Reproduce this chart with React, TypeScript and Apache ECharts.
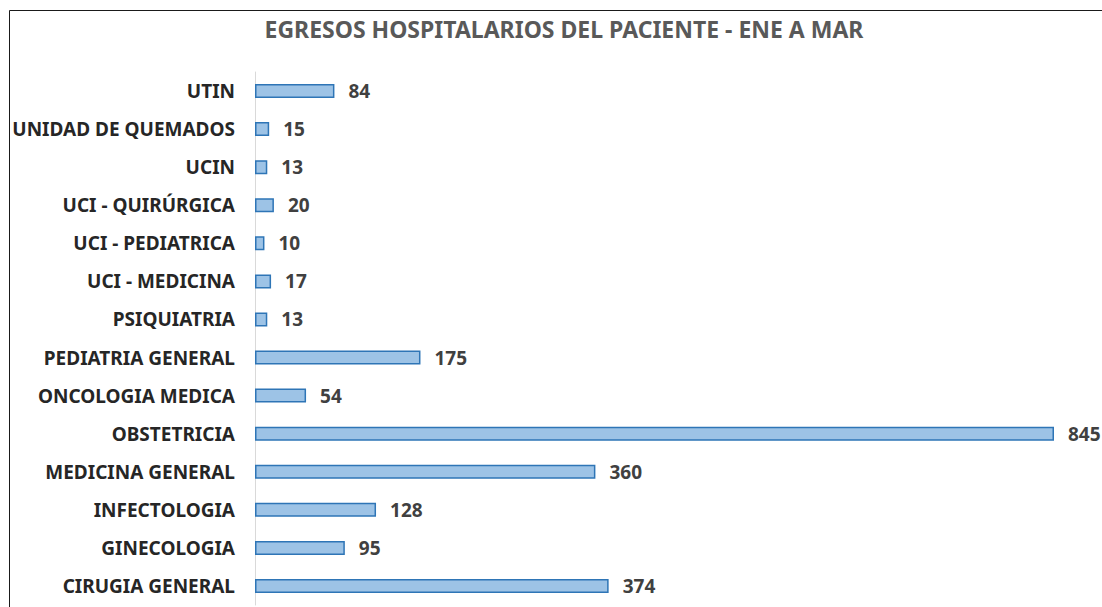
import React, { useEffect, useRef } from "react";
import * as echarts from "echarts";

const categories = [
  "CIRUGIA GENERAL",
  "GINECOLOGIA",
  "INFECTOLOGIA",
  "MEDICINA GENERAL",
  "OBSTETRICIA",
  "ONCOLOGIA MEDICA",
  "PEDIATRIA GENERAL",
  "PSIQUIATRIA",
  "UCI - MEDICINA",
  "UCI - PEDIATRICA",
  "UCI - QUIRÚRGICA",
  "UCIN",
  "UNIDAD DE QUEMADOS",
  "UTIN",
];
const values = [374, 95, 128, 360, 845, 54, 175, 13, 17, 10, 20, 13, 15, 84];
const titleText = "EGRESOS HOSPITALARIOS DEL PACIENTE - ENE A MAR";

const FONT = "'Noto Sans', sans-serif";

export default function App() {
  const ref = useRef<HTMLDivElement>(null);
  useEffect(() => {
    if (!ref.current) return;
    const chart = echarts.init(ref.current, undefined, { renderer: "svg" });
    chart.setOption({
      animation: false,
      backgroundColor: "#ffffff",
      title: {
        text: titleText,
        left: 559,
        textAlign: "center",
        top: 12,
        textStyle: {
          fontFamily: FONT,
          fontSize: 23,
          fontWeight: "bold",
          color: "#595959",
        },
      },
      graphic: [
        {
          type: "rect",
          shape: { x: 9.5, y: 10.5, width: 1200, height: 700 },
          style: { fill: "none", stroke: "#1a1a1a", lineWidth: 1 },
          silent: true,
        },
      ],
      grid: { left: 255, right: 48, top: 72, height: 533 },
      xAxis: {
        type: "value",
        min: 0,
        max: 845,
        show: false,
        splitLine: { show: false },
      },
      yAxis: {
        type: "category",
        data: categories,
        axisLine: { show: true, lineStyle: { color: "#D9D9D9", width: 1 } },
        axisTick: { show: false },
        axisLabel: {
          margin: 20,
          fontFamily: FONT,
          fontSize: 19,
          fontWeight: "bold",
          color: "#262626",
        },
      },
      series: [
        {
          type: "bar",
          data: values,
          barWidth: 14,
          itemStyle: {
            color: "#9DC3E6",
            borderColor: "#2E75B6",
            borderWidth: 1.5,
          },
          label: {
            show: true,
            position: "right",
            distance: 14,
            fontFamily: FONT,
            fontSize: 19,
            fontWeight: "bold",
            color: "#404040",
          },
        },
      ],
    });
    return () => chart.dispose();
  }, []);
  return (
    <div
      ref={ref}
      style={{ position: "fixed", left: 0, top: 0, width: 1102, height: 607 }}
    />
  );
}
